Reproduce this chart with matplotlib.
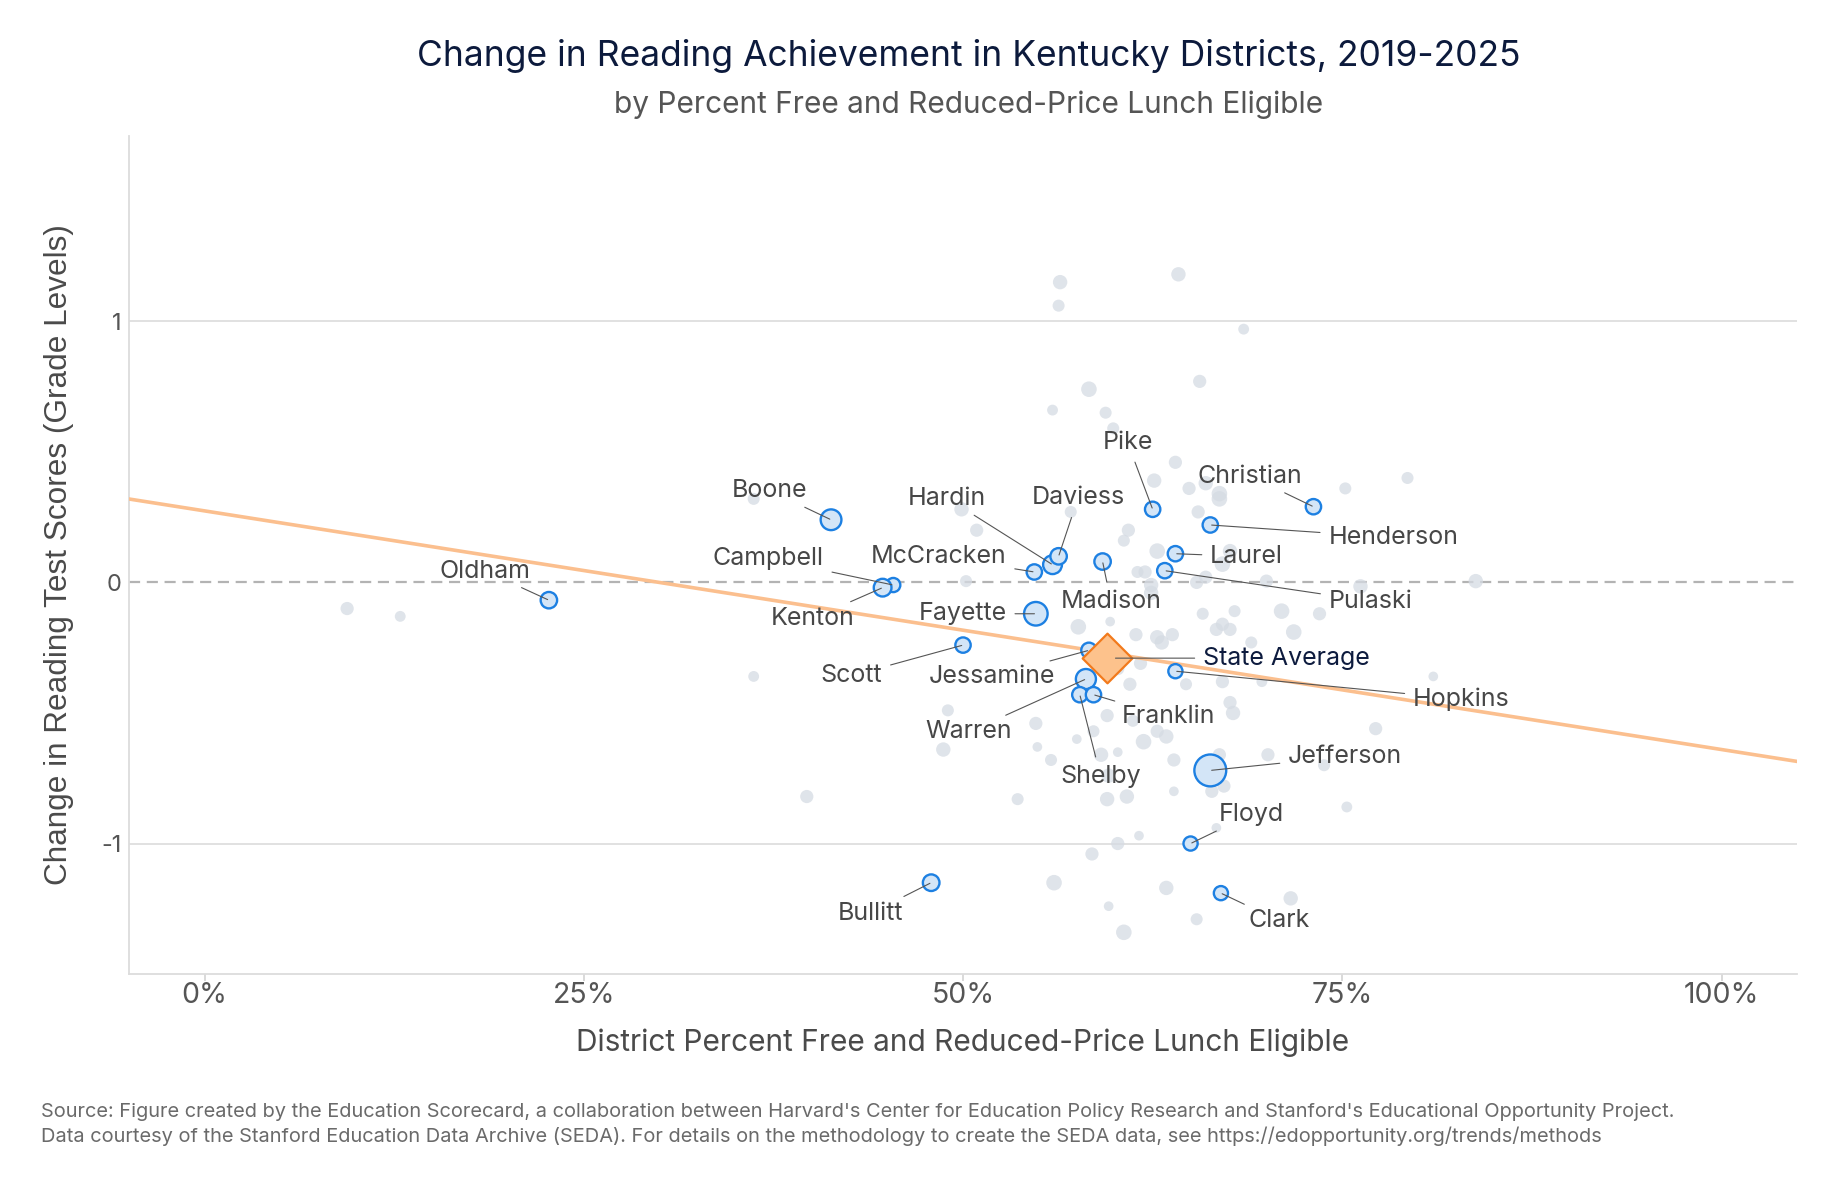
import matplotlib
matplotlib.use("Agg")
import matplotlib.pyplot as plt
import numpy as np

plt.rcParams['font.family'] = ['Inter', 'DejaVu Sans']

# --- data -------------------------------------------------------------
# all other districts: percent FRL eligible, change in grade levels, enrollment (thousands)
other_frl = [9.4, 12.9, 36.2, 36.2, 39.7, 49.0, 48.7, 49.9, 50.9, 50.2,
             56.4, 56.3, 64.2, 68.5, 58.3, 55.9, 59.4, 59.9, 65.6, 64.0,
             62.6, 64.9, 66.0, 66.9, 66.9, 75.2, 79.3, 57.1, 65.5, 60.9,
             60.6, 62.8, 67.6, 67.1, 61.5, 62.0, 62.4, 62.4, 65.4, 66.0,
             70.0, 76.2, 83.8, 57.6, 59.7, 61.4, 62.8, 63.1, 63.8, 65.8,
             67.9, 71.0, 73.5, 67.1, 66.7, 67.6, 71.8, 69.0, 61.7, 60.2,
             61.0, 64.7, 67.1, 69.7, 81.0, 67.6, 67.8, 62.8, 63.4, 61.9,
             61.2, 77.2, 54.8, 59.5, 58.6, 57.5, 60.2, 59.1, 54.9, 55.8,
             59.6, 63.9, 66.9, 70.1, 73.8, 66.4, 67.2, 63.9, 53.6, 59.5,
             60.8, 75.3, 66.7, 61.6, 60.2, 58.5, 56.0, 63.4, 71.6, 59.6,
             65.4, 60.6]
other_change = [-0.10, -0.13, 0.32, -0.36, -0.82, -0.49, -0.64, 0.28, 0.20, 0.005,
                1.15, 1.06, 1.18, 0.97, 0.74, 0.66, 0.65, 0.59, 0.77, 0.46,
                0.39, 0.36, 0.38, 0.34, 0.32, 0.36, 0.40, 0.27, 0.27, 0.20,
                0.16, 0.12, 0.12, 0.07, 0.04, 0.04, -0.01, -0.04, 0.00, 0.02,
                0.005, -0.015, 0.005, -0.17, -0.15, -0.20, -0.21, -0.23, -0.20, -0.12,
                -0.11, -0.11, -0.12, -0.16, -0.18, -0.18, -0.19, -0.23, -0.31, -0.33,
                -0.39, -0.39, -0.38, -0.38, -0.36, -0.46, -0.50, -0.57, -0.59, -0.61,
                -0.53, -0.56, -0.54, -0.51, -0.57, -0.60, -0.65, -0.66, -0.63, -0.68,
                -0.74, -0.68, -0.66, -0.66, -0.70, -0.80, -0.78, -0.80, -0.83, -0.83,
                -0.82, -0.86, -0.94, -0.97, -1.00, -1.04, -1.15, -1.17, -1.21, -1.24,
                -1.29, -1.34]
other_enroll = [2.25, 0.25, 1, 0.25, 2.25, 1, 4, 4, 2.25, 1,
                4, 1, 4, 0.25, 6.25, 0.25, 1, 1, 2.25, 2.25,
                4, 2.25, 4, 6.25, 6.25, 1, 1, 1, 2.25, 2.25,
                1, 6.25, 4, 6.25, 1, 2.25, 4, 4, 2.25, 2.25,
                2.25, 4, 4, 6.25, 0, 2.25, 4, 4, 2.25, 1,
                1, 6.25, 2.25, 2.25, 2.25, 2.25, 6.25, 1, 2.25, 2.25,
                2.25, 1, 2.25, 0.25, 0, 2.25, 4, 2.25, 4, 6.25,
                1, 2.25, 2.25, 2.25, 1, 0, 0, 4, 0, 1,
                4, 2.25, 2.25, 2.25, 1, 2.25, 2.25, 0, 1, 4,
                4, 0.25, 0, 0, 2.25, 2.25, 6.25, 4, 4, 0,
                1, 6.25]

# labelled districts
names = ['Oldham', 'Boone', 'Campbell', 'Kenton', 'McCracken', 'Hardin', 'Daviess',
         'Madison', 'Pike', 'Christian', 'Henderson', 'Laurel', 'Pulaski', 'Fayette',
         'Scott', 'Jessamine', 'Warren', 'Shelby', 'Franklin', 'Hopkins', 'Jefferson',
         'Floyd', 'Bullitt', 'Clark']
frl = [22.7, 41.3, 45.4, 44.7, 54.7, 55.9, 56.3,
       59.2, 62.5, 73.1, 66.3, 64.0, 63.3, 54.8,
       50.0, 58.3, 58.1, 57.7, 58.6, 64.0, 66.3,
       65.0, 47.9, 67.0]
change = [-0.068, 0.24, -0.01, -0.02, 0.04, 0.068, 0.10,
          0.08, 0.28, 0.29, 0.22, 0.11, 0.045, -0.12,
          -0.24, -0.26, -0.37, -0.43, -0.43, -0.34, -0.72,
          -1.00, -1.15, -1.19]
enroll = [12, 28, 6.25, 16, 9, 20, 12,
          12, 9, 9, 9, 9, 9, 42,
          9, 9, 25, 9, 9, 6.25, 100,
          6.25, 12.5, 6.25]

state_frl = 59.5
state_change = -0.29

fit_intercept = 0.274
fit_slope = -0.00914   # grade levels per percentage point

# label placement (offset in points from the district, alignment)
label_pos = {
    'Oldham': (-13, 21, 'right'), 'Boone': (-17, 21, 'right'),
    'Campbell': (-50, 19, 'right'), 'Kenton': (-20, -22, 'right'),
    'McCracken': (-20, 11, 'right'), 'Hardin': (-48, 48, 'right'),
    'Daviess': (14, 42, 'center'), 'Madison': (6, -29, 'center'),
    'Pike': (-18, 48, 'center'), 'Christian': (-8, 22, 'right'),
    'Henderson': (85, -9, 'left'), 'Laurel': (25, -2, 'left'),
    'Pulaski': (118, -22, 'left'), 'Fayette': (-21, 0, 'right'),
    'Scott': (-58, -22, 'right'), 'Jessamine': (-24, -19, 'right'),
    'Warren': (-53, -38, 'right'), 'Shelby': (15, -59, 'center'),
    'Franklin': (20, -16, 'left'), 'Hopkins': (171, -20, 'left'),
    'Jefferson': (56, 10, 'left'), 'Floyd': (20, 21, 'left'),
    'Bullitt': (-20, -22, 'right'), 'Clark': (20, -20, 'left'),
}


def marker_area(e, base=3.5):
    # radius in points grows with sqrt of enrollment
    r = 0.85 * (base + np.sqrt(np.asarray(e)))
    return (2 * r) ** 2


fig = plt.figure(figsize=(18.41, 11.82), dpi=100)
ax = fig.add_axes([0.0699, 0.1759, 0.9064, 0.7091])

ax.set_xlim(-5, 105)
ax.set_ylim(-1.5, 1.71)

# grid + zero line
for yv in (-1, 1):
    ax.axhline(yv, color='#dcdcdc', lw=1.2, zorder=0)
ax.axhline(0, color='#b3b3b3', lw=1.6, dashes=(5, 3), zorder=1)

# other districts
ax.scatter(other_frl, other_change, s=marker_area(other_enroll, base=4.1),
           color='#d5dbe3', alpha=0.75, linewidths=0, zorder=2)

# fit line
xs = np.array([-5, 105])
ax.plot(xs, fit_intercept + fit_slope * xs, color='#fbbf8e', lw=2.6, zorder=3,
        solid_capstyle='butt')

# labelled districts
ax.scatter(frl, change, s=marker_area(enroll), facecolor='#d3e5f7',
           edgecolor='#1d80e2', linewidths=1.7, zorder=5)

for nm, xv, yv in zip(names, frl, change):
    dx, dy, ha = label_pos[nm]
    ax.annotate(nm, (xv, yv), xytext=(dx, dy), textcoords='offset points',
                ha=ha, va='center', fontsize=18, color='#474747', zorder=6,
                arrowprops=dict(arrowstyle='-', color='#555555', lw=0.8,
                                shrinkA=4, shrinkB=1))

# state average
ax.scatter([state_frl], [state_change], marker='D', s=640, facecolor='#fdc28c',
           edgecolor='#f27a1c', linewidths=1.6, zorder=7)
ax.annotate('State Average', (state_frl, state_change), xytext=(69, 0),
            textcoords='offset points', ha='left', va='center', fontsize=18,
            color='#0d1b3e', zorder=8,
            arrowprops=dict(arrowstyle='-', color='#555555', lw=0.8,
                            shrinkA=4, shrinkB=6))

# axes styling
for side in ('top', 'right'):
    ax.spines[side].set_visible(False)
for side in ('left', 'bottom'):
    ax.spines[side].set_color('#dcdcdc')
    ax.spines[side].set_linewidth(1.3)

ax.set_xticks([0, 25, 50, 75, 100])
ax.set_xticklabels(['0%', '25%', '50%', '75%', '100%'])
ax.set_yticks([-1, 0, 1])
ax.set_yticklabels(['-1', '0', '1'])
ax.tick_params(axis='x', length=5, width=1.1, color='#d0d0d0', pad=1,
               labelsize=20.5, labelcolor='#555555')
ax.tick_params(axis='y', length=0, pad=5, labelsize=17, labelcolor='#555555')

ax.set_xlabel('District Percent Free and Reduced-Price Lunch Eligible',
              fontsize=21.5, color='#4a4a4a', labelpad=14)
ax.set_ylabel('Change in Reading Test Scores (Grade Levels)',
              fontsize=22.7, color='#4a4a4a', labelpad=20,
              family=['Liberation Sans', 'DejaVu Sans'])

fig.text(0.526, 0.953, 'Change in Reading Achievement in Kentucky Districts, 2019-2025',
         ha='center', va='center', fontsize=25.5, color='#0c1a3c')
fig.text(0.526, 0.911, 'by Percent Free and Reduced-Price Lunch Eligible',
         ha='center', va='center', fontsize=21.5, color='#555555')

fig.text(0.0224, 0.059,
         "Source: Figure created by the Education Scorecard, a collaboration between Harvard's "
         "Center for Education Policy Research and Stanford's Educational Opportunity Project.",
         ha='left', va='center', fontsize=14.4, color='#6a6a6a')
fig.text(0.0224, 0.039,
         "Data courtesy of the Stanford Education Data Archive (SEDA). For details on the "
         "methodology to create the SEDA data, see https://edopportunity.org/trends/methods",
         ha='left', va='center', fontsize=14.4, color='#6a6a6a')

fig.savefig('out.png', dpi=100)
